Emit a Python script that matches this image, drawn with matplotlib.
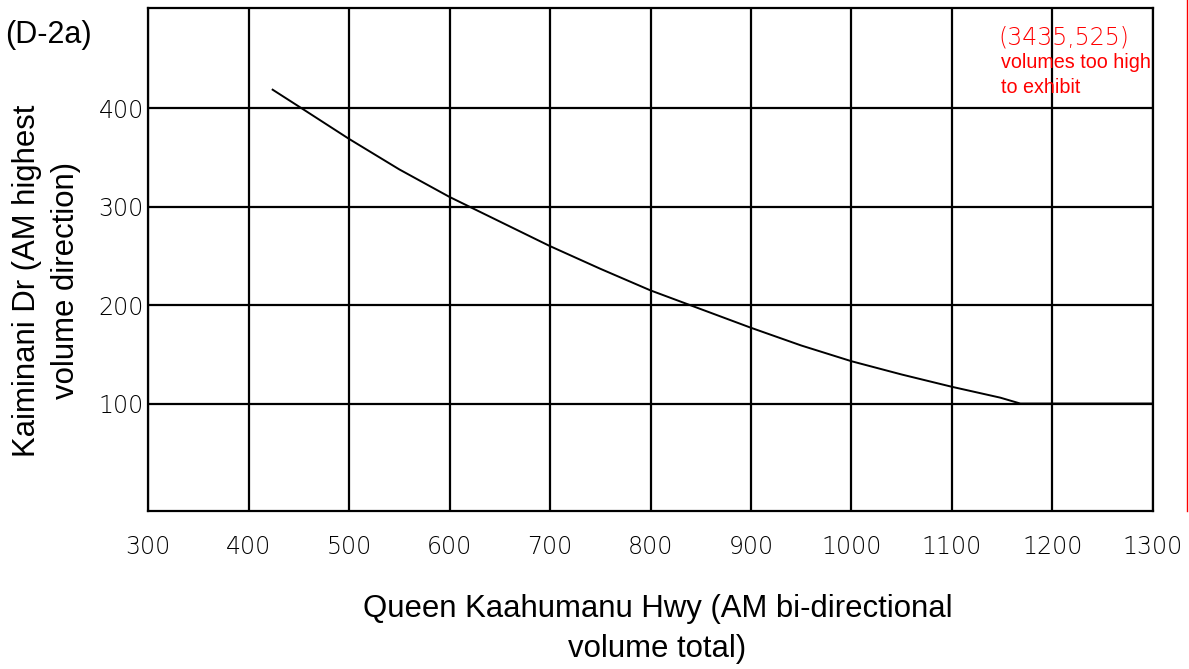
import matplotlib
matplotlib.use("Agg")
import matplotlib.pyplot as plt
from matplotlib.lines import Line2D

# curve (D-2a)
queen_vol = [424, 453, 500, 550, 600, 650, 700, 750, 800, 850, 900, 950, 1000, 1050, 1100, 1148, 1168, 1300]
kaim_vol = [419, 400, 369, 338, 310, 285, 260, 237, 215, 196, 177, 159, 143, 129.5, 117, 106, 100, 100]

x_ticks = [300, 400, 500, 600, 700, 800, 900, 1000, 1100, 1200, 1300]
y_ticks = [100, 200, 300, 400]

fig = plt.figure(figsize=(11.89, 6.69), dpi=100)
ax = fig.add_axes([0.1245, 0.2362, 0.8452, 0.7518])

ax.plot(queen_vol, kaim_vol, color="black", lw=1.4)

ax.set_xlim(300, 1300)
ax.set_ylim(-9.2, 502)
ax.set_xticks(x_ticks)
ax.set_yticks(y_ticks)
ax.grid(True, color="black", lw=1.6)
for s in ax.spines.values():
    s.set_linewidth(1.6)
ax.tick_params(length=0, labelsize=17, pad=17)
ax.tick_params(axis="y", pad=3)
for lab in ax.get_xticklabels() + ax.get_yticklabels():
    lab.set_fontfamily("DejaVu Sans")
    lab.set_fontweight("light")

fig.text(0.553, 0.06, "Queen Kaahumanu Hwy (AM bi-directional\nvolume total)",
         ha="center", va="center", fontsize=22.4, family="Liberation Sans",
         linespacing=1.45)
fig.text(0.039, 0.58, "Kaiminani Dr (AM highest\nvolume direction)",
         ha="center", va="center", rotation=90, fontsize=22.4,
         family="Liberation Sans", linespacing=1.4)
fig.text(0.004, 0.947, "(D-2a)", ha="left", va="center", fontsize=22,
         family="Liberation Sans")

fig.text(0.840, 0.944, "(3435,525)", color="red", ha="left", va="center",
         fontsize=17, family="DejaVu Sans", fontweight="light")
fig.text(0.842, 0.921, "volumes too high\nto exhibit", color="red", ha="left",
         va="top", fontsize=14.2, family="Liberation Sans", linespacing=1.39)

fig.add_artist(Line2D([0.9983, 0.9983], [1.0, 0.2362], transform=fig.transFigure,
                      color="red", lw=1.0))

fig.savefig("out.png", dpi=100)
